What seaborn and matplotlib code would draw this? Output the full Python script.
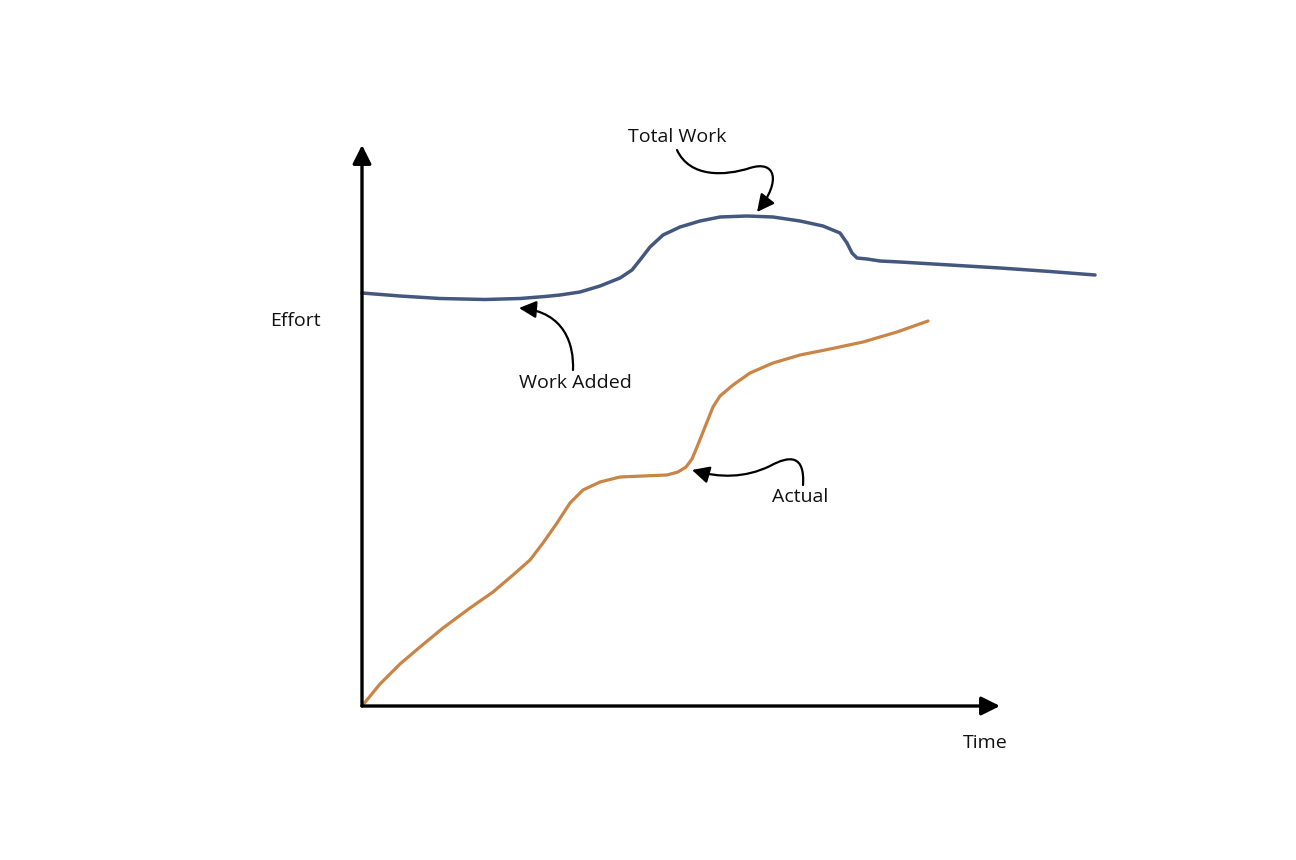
import numpy as np
import pandas as pd
import matplotlib.pyplot as plt
import seaborn as sns
from matplotlib.path import Path
from matplotlib.patches import FancyArrowPatch

# curves (arbitrary units, no scale on the chart)
total_time = [0, 38, 78, 123, 158, 183, 198, 218, 238, 258, 270, 278, 288, 301, 318, 338,
              358, 385, 411, 438, 461, 478, 485, 490, 495, 505, 518, 538, 588, 638, 688, 733]
total_effort = [413, 410, 407.5, 406.5, 407.5, 409.5, 411, 414, 420, 428, 436, 446, 459, 471,
                479, 485, 489, 490, 489, 485, 480, 473, 463, 453, 448, 447, 445, 444, 441,
                438, 434.5, 431]

actual_time = [0, 18, 38, 58, 81, 108, 131, 151, 168, 181, 195, 208, 221, 238, 258, 281,
               305, 316, 324, 330, 335, 343, 351, 358, 371, 388, 411, 438, 468, 501, 535, 566]
actual_effort = [0, 22, 42, 59, 78, 98, 114, 131, 146, 163, 183, 203, 216, 224, 229, 230,
                 231, 234, 239, 247, 259, 279, 299, 310, 321, 333, 343, 351, 357, 364, 374, 385]

labels = ['Total Work', 'Work Added', 'Actual']
axis_labels = ['Time', 'Effort']

sns.set_style('white')
plt.rcParams['font.family'] = ['Open Sans', 'DejaVu Sans']

total_df = pd.DataFrame({'time': total_time, 'effort': total_effort})
actual_df = pd.DataFrame({'time': actual_time, 'effort': actual_effort})

fig = plt.figure(figsize=(12.96, 8.6), dpi=100)
ax = fig.add_axes([362 / 1296, 154 / 860, 638 / 1296, 558 / 860])
ax.set_xlim(0, 638)
ax.set_ylim(0, 558)
ax.axis('off')

sns.lineplot(data=total_df, x='time', y='effort', sort=False, ax=ax,
             color='#44587f', lw=2.5, clip_on=False, solid_joinstyle='round')
sns.lineplot(data=actual_df, x='time', y='effort', sort=False, ax=ax,
             color='#c98446', lw=2.3, clip_on=False, solid_joinstyle='round')

# axes with arrow heads
arrow_kw = dict(arrowstyle='-|>', lw=2.4, color='black', mutation_scale=28,
                shrinkA=0, shrinkB=0)
ax.annotate('', xy=(0, 561), xytext=(0, 0), arrowprops=arrow_kw, annotation_clip=False)
ax.annotate('', xy=(638, 0), xytext=(0, 0), arrowprops=arrow_kw, annotation_clip=False)

# overlay in pixel coordinates for the labels and pointer arrows
ov = fig.add_axes([0, 0, 1, 1], facecolor='none')
ov.set_xlim(0, 1296)
ov.set_ylim(860, 0)
ov.axis('off')

txt = dict(fontsize=14, ha='center', va='center', color='#111111')
ov.text(295, 321, axis_labels[1], **txt)
ov.text(985, 743, axis_labels[0], **txt)
ov.text(677, 137, labels[0], **txt)
ov.text(575, 383, labels[1], **txt)
ov.text(800, 497, labels[2], **txt)

paths = [
    [(677, 150), (690, 178), (725, 176), (750, 168), (775, 160), (782, 180), (757, 212)],
    [(573, 370), (574, 345), (565, 312), (519, 308)],
    [(803, 485), (805, 455), (790, 455), (770, 466), (745, 478), (720, 478), (692, 470)],
]
for pts in paths:
    codes = [Path.MOVETO] + [Path.CURVE4] * (len(pts) - 1)
    p = FancyArrowPatch(path=Path(pts, codes), arrowstyle='-|>', mutation_scale=26,
                        lw=1.6, color='black', transform=ov.transData)
    ov.add_patch(p)

fig.savefig('out.png', dpi=100)
